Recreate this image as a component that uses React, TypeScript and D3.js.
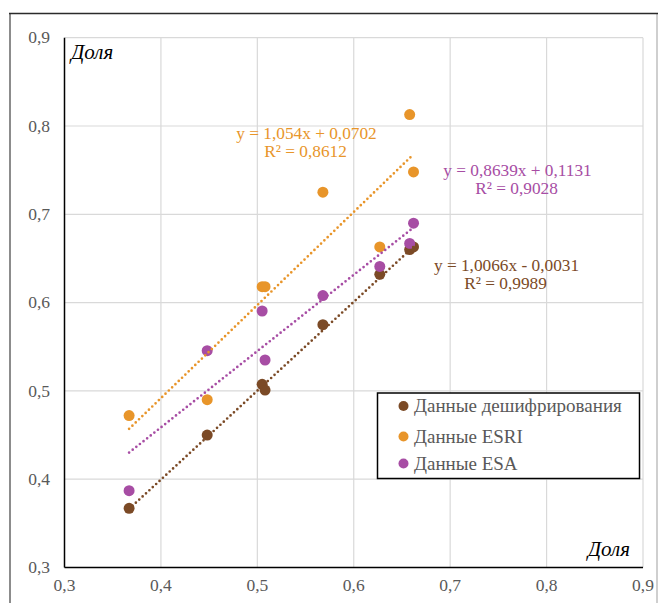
import React from "react";
import * as d3 from "d3";

const xValues = [0.367, 0.448, 0.505, 0.508, 0.568, 0.627, 0.658, 0.662];
const decodedValues = [0.367, 0.45, 0.5075, 0.501, 0.575, 0.632, 0.66, 0.663];
const esriValues = [0.472, 0.49, 0.618, 0.618, 0.725, 0.663, 0.813, 0.748];
const esaValues = [0.387, 0.5455, 0.5905, 0.535, 0.608, 0.641, 0.667, 0.69];
const tickValues = [0.3, 0.4, 0.5, 0.6, 0.7, 0.8, 0.9];
const seriesNames = ["Данные дешифрирования", "Данные ESRI", "Данные ESA"];
const slopes = [1.0066, 1.054, 0.8639];
const intercepts = [-0.0031, 0.0702, 0.1131];
const equationLines = [
  ["y = 1,0066x - 0,0031", "R² = 0,9989"],
  ["y = 1,054x + 0,0702", "R² = 0,8612"],
  ["y = 0,8639x + 0,1131", "R² = 0,9028"],
];
const colors = ["#7B4A26", "#E8952A", "#A74DA4"];
const eqPos = [
  [506.5, 265],
  [306.5, 133],
  [517.5, 170],
];

const ff = { fontFamily: "Liberation Serif" };

export default function App() {
  const W = 665, H = 603;
  const left = 64.5, right = 643, top = 37.7, bottom = 567.5;
  const x = d3.scaleLinear().domain([0.3, 0.9]).range([left, right]);
  const y = d3.scaleLinear().domain([0.3, 0.9]).range([bottom, top]);
  const series = [decodedValues, esriValues, esaValues];
  const fmt = (v: number) => d3.format(".1f")(v).replace(".", ",");
  const xMin = d3.min(xValues)!, xMax = d3.max(xValues)!;
  const legY = [406, 436.5, 463.5];

  return (
    <div style={{ position: "absolute", left: 0, top: 0 }}>
      <svg width={W} height={H} style={{ display: "block" }}>
        <rect x={0} y={0} width={W} height={H} fill="#fff" />
        <line x1={10} y1={13} x2={10} y2={H} stroke="#8c8c8c" strokeWidth={2} />
        <line x1={657} y1={13} x2={657} y2={H} stroke="#bfbfbf" strokeWidth={1.5} />
        <line x1={9} y1={13.5} x2={658} y2={13.5} stroke="#2b2b2b" strokeWidth={1.5} />
        {tickValues.slice(1).map((t) => (
          <g key={"g" + t}>
            <line x1={x(t)} x2={x(t)} y1={top} y2={bottom} stroke="#d9d9d9" strokeWidth={1.2} />
            <line x1={left} x2={right} y1={y(t)} y2={y(t)} stroke="#d9d9d9" strokeWidth={1.2} />
          </g>
        ))}
        <line x1={left} x2={left} y1={top} y2={bottom} stroke="#000" strokeWidth={1.5} />
        <line x1={left} x2={right} y1={bottom} y2={bottom} stroke="#000" strokeWidth={1.5} />
        {tickValues.map((t) => (
          <text key={"y" + t} x={50} y={y(t)} dy="0.33em" textAnchor="end" fontSize={17.5} fill="#595959" style={ff}>
            {fmt(t)}
          </text>
        ))}
        {tickValues.map((t) => (
          <text key={"x" + t} x={x(t)} y={591} textAnchor="middle" fontSize={17.5} fill="#595959" style={ff}>
            {fmt(t)}
          </text>
        ))}
        <text x={71} y={58.5} fontSize={21} fontStyle="italic" fill="#000" style={ff}>Доля</text>
        <text x={630} y={556} fontSize={21} fontStyle="italic" fill="#000" textAnchor="end" style={ff}>Доля</text>
        {series.map((vals, si) => (
          <g key={"s" + si}>
            {vals.map((v, i) => (
              <circle key={i} cx={x(xValues[i])} cy={y(v)} r={5.5} fill={colors[si]} />
            ))}
          </g>
        ))}
        {slopes.map((m, si) => (
          <line
            key={"t" + si}
            x1={x(xMin)}
            y1={y(m * xMin + intercepts[si])}
            x2={x(xMax)}
            y2={y(m * xMax + intercepts[si])}
            stroke={colors[si]}
            strokeWidth={2.7}
            strokeLinecap="round"
            strokeDasharray="0 4.6"
          />
        ))}
        {equationLines.map((ls, si) => (
          <text key={"e" + si} textAnchor="middle" fontSize={17.3} fill={colors[si]} style={ff}>
            <tspan x={eqPos[si][0]} y={eqPos[si][1]} dy="0.33em">{ls[0]}</tspan>
            <tspan x={eqPos[si][0] - 1} y={eqPos[si][1] + 18.3} dy="0.33em">{ls[1]}</tspan>
          </text>
        ))}
        <rect x={377.5} y={393} width={262} height={85.5} fill="#fff" stroke="#000" strokeWidth={1.5} />
        {seriesNames.map((n, i) => (
          <g key={"l" + i}>
            <circle cx={403.5} cy={legY[i]} r={5} fill={colors[i]} />
            <text x={414} y={legY[i]} dy="0.33em" fontSize={19} fill="#595959" style={ff}>{n}</text>
          </g>
        ))}
      </svg>
    </div>
  );
}
